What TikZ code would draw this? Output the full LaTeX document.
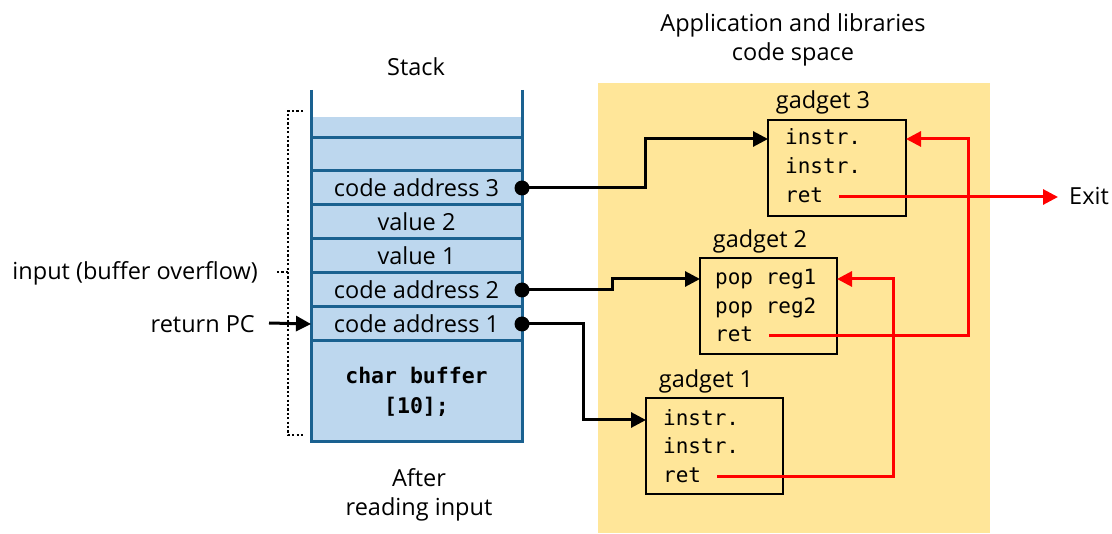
\documentclass[tikz,border=0pt]{standalone}
\usepackage{fontspec}
\setmainfont{Open Sans}
\setmonofont{DejaVu Sans Mono}
\usetikzlibrary{arrows.meta,calc}
\definecolor{stackline}{HTML}{1A6190}
\definecolor{stackfill}{HTML}{BDD7EE}
\definecolor{codearea}{HTML}{FFE699}
\definecolor{retred}{HTML}{FF0000}
\tikzset{
  lbl/.style={font=\fontsize{23.5}{28.5}\selectfont, inner sep=0pt, align=center},
  cell/.style={draw=stackline, line width=3pt, fill=stackfill, minimum width=211pt,
    inner sep=0pt, outer sep=0pt, anchor=north west, font=\fontsize{23.5}{28}\selectfont},
  gadget/.style={draw=black, line width=2.6pt, minimum width=138pt, minimum height=96pt,
    inner sep=0pt, outer sep=0pt, anchor=north west},
  code/.style={font=\ttfamily\fontsize{21}{28}\selectfont, inner sep=0pt, anchor=west,
    text height=16pt, text depth=5pt},
  conn/.style={line width=3pt, -{Triangle[length=15pt,width=15pt]}},
  retconn/.style={line width=3pt, draw=retred, -{Triangle[length=15pt,width=15pt]}, retred},
  dot/.style={fill=black},
  bracket/.style={line width=2.6pt, dash pattern=on 2.2pt off 2.2pt},
}
\begin{document}
\begin{tikzpicture}[x=1pt,y=-1pt]
\useasboundingbox (0,0) rectangle (1112,534);

% code space of the application and its libraries
\node[fill=codearea, minimum width=392pt, minimum height=450pt, inner sep=0pt,
  outer sep=0pt, anchor=north west] (area) at (598,83) {};
\node[lbl] (areatitle) at (793,40) {Application and libraries\\code space};

% the stack
\node[lbl] (stacktitle) at (416,67) {Stack};
\node[cell, draw=none, minimum height=21pt] (c0) at (311,117) {};
\node[cell, minimum height=33pt] (c1) at (311,138) {};
\node[cell, minimum height=34pt] (ca3) at (311,171) {code address 3};
\node[cell, minimum height=34pt] (v2) at (311,205) {value 2};
\node[cell, minimum height=34pt] (v1) at (311,239) {value 1};
\node[cell, minimum height=34pt] (ca2) at (311,273) {code address 2};
\node[cell, minimum height=34pt] (ca1) at (311,307) {code address 1};
\node[cell, minimum height=101pt, align=center,
  font=\ttfamily\bfseries\fontsize{21.5}{30}\selectfont] (buf) at (311,341) {char buffer\\{[10];}};
\coordinate (sl) at (311,90);
\coordinate (sr) at (522,90);
\draw[stackline, line width=3pt] (sl) -- (buf.south west);
\draw[stackline, line width=3pt] (sr) -- (buf.south east);
\node[lbl] (after) at (419,495) {After\\reading input};

% input bracket and return PC
\coordinate (bt) at (303,111);
\coordinate (bb) at (303,435);
\coordinate (bm) at (288,272);
\draw[bracket] (bt) -- (bt -| bm) -- (bb -| bm) -- (bb);
\node[lbl, anchor=east] (input) at (258,273) {input (buffer overflow)};
\draw[bracket] (bm) -- ($(input.east)+(17,-1)$);
\node[lbl, anchor=east] (rpc) at (255,324) {return PC};
\draw[line width=3pt, -{Triangle[length=15pt,width=15pt]}] ($(rpc.east)+(14,-1)$) -- (ca1.west);

% gadgets
\node[gadget] (g3) at (768,120) {};
\node[lbl] (g3t) at (823,102) {gadget 3};
\node[code] (g3a) at (785,139) {instr.};
\node[code] (g3b) at (785,168) {instr.};
\node[code] (g3r) at (785,197) {ret};

\node[gadget, minimum width=137pt] (g2) at (700,258) {};
\node[lbl] (g2t) at (760,241) {gadget 2};
\node[code] (g2a) at (715,279) {pop reg1};
\node[code] (g2b) at (715,308) {pop reg2};
\node[code] (g2r) at (715,336) {ret};

\node[gadget, minimum width=137pt] (g1) at (646,398) {};
\node[lbl] (g1t) at (706,381) {gadget 1};
\node[code] (g1a) at (663,420) {instr.};
\node[code] (g1b) at (663,448) {instr.};
\node[code] (g1r) at (663,477) {ret};

\node[lbl, anchor=west, inner xsep=11pt] (exit) at (1058,196) {Exit};

% return addresses on the stack point into the gadgets
\draw[conn] (ca3.east) -- ++(123,0) |- (g3.west |- g3a);
\fill[dot] (ca3.east) circle (7.5);
\draw[conn] (ca2.east) -- ++(90,0) |- (g2.west |- g2a);
\fill[dot] (ca2.east) circle (7.5);
\draw[conn] (ca1.east) -- ++(61,0) |- (g1.west |- g1a);
\fill[dot] (ca1.east) circle (7.5);

% each ret continues at the next gadget
\draw[retconn] ($(g1r.east)+(16,0)$) -| ($(g2.east |- g2a)+(56,0)$) -- (g2.east |- g2a);
\draw[retconn] ($(g2r.east)+(16,0)$) -| ($(g3.east |- g3a)+(62,0)$) -- (g3.east |- g3a);
\draw[retconn] ($(g3r.east)+(16,0)$) -- (exit.west |- g3r);
\end{tikzpicture}
\end{document}
